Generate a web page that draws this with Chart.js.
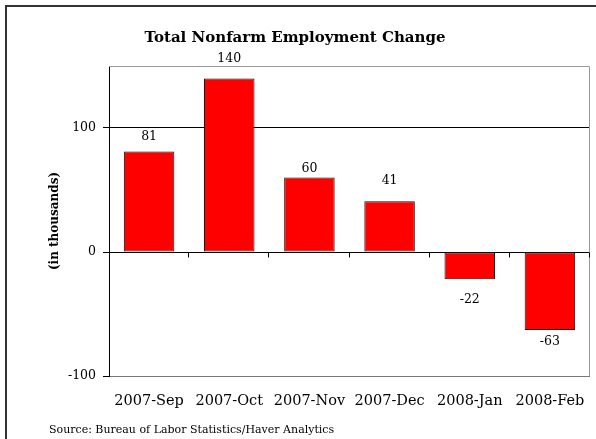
<!DOCTYPE html>
<html lang="en">
<head>
  <meta charset="UTF-8">
  <title>Total Nonfarm Employment Change</title>
  <script src="https://cdn.jsdelivr.net/npm/chart.js"></script>
  <style>
    html, body { margin: 0; padding: 0; background: #fff; overflow: hidden; }
    .wrap { position: relative; width: 596px; height: 439px; overflow: hidden; }
    .frame {
      position: absolute; left: 5px; top: 5px; width: 620px; height: 460px;
      border: 2px solid #333; pointer-events: none;
    }
  </style>
</head>
<body>
  <div class="wrap">
    <canvas id="chart" width="596" height="439"></canvas>
    <div class="frame"></div>
  </div>

  <script>
    // Monthly change, thousands of jobs
    const months = ['2007-Sep', '2007-Oct', '2007-Nov', '2007-Dec', '2008-Jan', '2008-Feb'];
    const change = [81, 140, 60, 41, -22, -63];
    const yTicks = [-100, 0, 100];

    // distance between bar end and its value label
    const labelGaps = [15, 20, 9, 20, 20, 12];

    const serif = '"DejaVu Serif", serif';

    // value labels above / below each bar
    const valueLabels = {
      id: 'valueLabels',
      afterDatasetsDraw(chart) {
        const ctx = chart.ctx;
        const meta = chart.getDatasetMeta(0);
        ctx.save();
        ctx.font = '12.5px ' + serif;
        ctx.fillStyle = '#000';
        ctx.textAlign = 'center';
        ctx.textBaseline = 'middle';
        meta.data.forEach((bar, i) => {
          const v = change[i];
          const y = v >= 0 ? bar.y - labelGaps[i] : bar.y + labelGaps[i];
          ctx.fillText(String(v), bar.x, y);
        });
        ctx.restore();
      }
    };

    // grey plot frame (top and right), tick marks on the zero line, source note
    const plotFrame = {
      id: 'plotFrame',
      beforeDatasetsDraw(chart) {
        const { ctx, chartArea: a } = chart;
        ctx.save();
        ctx.strokeStyle = '#999';
        ctx.lineWidth = 1;
        ctx.beginPath();
        ctx.moveTo(a.left, a.top + 0.5);
        ctx.lineTo(a.right - 0.5, a.top + 0.5);
        ctx.lineTo(a.right - 0.5, a.bottom);
        ctx.stroke();
        ctx.restore();
      },
      afterDraw(chart) {
        const { ctx, chartArea: a, scales } = chart;
        const y0 = Math.round(scales.y.getPixelForValue(0)) + 0.5;
        const step = (a.right - a.left) / months.length;
        ctx.save();
        ctx.strokeStyle = '#000';
        ctx.lineWidth = 1;
        ctx.beginPath();
        for (let i = 1; i <= months.length; i++) {
          const x = Math.round(a.left + step * i) - 0.5;
          ctx.moveTo(x, y0);
          ctx.lineTo(x, y0 + 5);
        }
        ctx.stroke();
        ctx.font = '11px ' + serif;
        ctx.fillStyle = '#000';
        ctx.textBaseline = 'middle';
        ctx.fillText('Source: Bureau of Labor Statistics/Haver Analytics', 49, 430);
        ctx.restore();
      }
    };

    new Chart(document.getElementById('chart'), {
      type: 'bar',
      data: {
        labels: months,
        datasets: [{
          data: change,
          backgroundColor: '#ff0000',
          borderColor: '#111',
          borderWidth: 1,
          borderSkipped: false,
          barPercentage: 0.63,
          categoryPercentage: 1
        }]
      },
      options: {
        responsive: false,
        animation: false,
        devicePixelRatio: 1,
        layout: { padding: { left: 0, right: 6, top: 0, bottom: 0 } },
        plugins: {
          legend: { display: false },
          tooltip: { enabled: false },
          title: {
            display: true,
            text: 'Total Nonfarm Employment Change',
            color: '#000',
            font: { family: serif, size: 15, weight: 'bold' },
            padding: { top: 29, bottom: 19 }
          }
        },
        scales: {
          x: {
            grid: { display: false, drawTicks: false },
            border: { display: false },
            ticks: {
              color: '#000',
              font: { family: serif, size: 14.5 },
              padding: 17,
              maxRotation: 0
            },
            afterFit(scale) {
              scale.height = 63;
              scale.paddingLeft = 0;
              scale.paddingRight = 0;
            }
          },
          y: {
            min: -100,
            max: 150,
            afterBuildTicks(scale) {
              scale.ticks = yTicks.map(v => ({ value: v }));
            },
            grid: {
              color: ctx => ctx.tick && ctx.tick.value === -100 ? '#777' : '#000',
              tickColor: '#000',
              tickLength: 6,
              lineWidth: 1
            },
            border: { display: true, color: '#000', width: 1 },
            ticks: {
              color: '#000',
              font: { family: serif, size: 12.5 },
              padding: 7
            },
            title: {
              display: true,
              text: '(in thousands)',
              color: '#000',
              font: { family: serif, size: 12, weight: 'bold' },
              padding: { top: 48, bottom: 0 }
            },
            afterFit(scale) { scale.width = 109; }
          }
        }
      },
      plugins: [valueLabels, plotFrame]
    });
  </script>
</body>
</html>
